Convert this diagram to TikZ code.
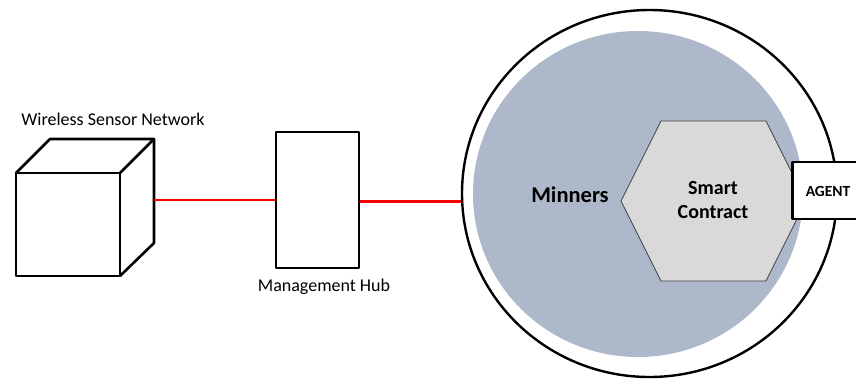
\documentclass[tikz,border=0pt]{standalone}
\usepackage{fontspec}
\setmainfont{Carlito}
\usetikzlibrary{shapes.geometric}
\definecolor{minerfill}{HTML}{ADB9CA}
\definecolor{hexfill}{HTML}{D9D9D9}
\definecolor{hexline}{HTML}{404040}
\begin{document}
\begin{tikzpicture}[x=1pt,y=-1pt,
  outline/.style={draw=black,line width=2.6pt,line join=round},
  link/.style={draw=red,line width=2.2pt},
  lbl/.style={font=\fontsize{18}{21}\selectfont,inner sep=0pt}]
\useasboundingbox (0,0) rectangle (856,378);
% cube
\draw[outline,fill=white] (16,173) rectangle (120,276);
\draw[outline] (16,173) -- (50,139) -- (154,139) -- (120,173);
\draw[outline] (154,139) -- (154,243) -- (120,276);
\coordinate (cubeR) at (154,200);
\node[lbl] (wsn) at (113,119) {Wireless Sensor Network};
% hub
\node[outline,fill=white,minimum width=83pt,minimum height=136pt,inner sep=0pt] (hub) at (317.5,200) {};
\node[lbl] (hubl) at (324,287) {Management Hub};
% circles
\node[draw=black,line width=2.4pt,ellipse,minimum width=375pt,minimum height=367pt,inner sep=0pt] (outer) at (649.5,193.5) {};
\fill[minerfill] (638,194) ellipse [x radius=165, y radius=163];
\node[font=\bfseries\fontsize{22.5}{26}\selectfont,inner sep=0pt] (min) at (570,195) {Minners};
% hexagon
\draw[fill=hexfill,draw=hexline,line width=0.7pt] (661,121) -- (766,121) -- (806,201) -- (766,281) -- (661,281) -- (621,201) -- cycle;
\node[font=\bfseries\fontsize{20}{24}\selectfont,align=center,inner sep=0pt] (sc) at (713,200) {Smart\\Contract};
% agent
\node[outline,fill=white,minimum width=72pt,minimum height=57pt,inner sep=0pt,anchor=west] (agent) at (791,190.5) {};
\node[font=\bfseries\fontsize{15.5}{18}\selectfont,inner sep=0pt] (agentl) at (828,191) {AGENT};
% links
\coordinate (l2a) at (359,201.5);
\coordinate (l2b) at (462,201.5);
\draw[link] (cubeR) -- (hub.west |- cubeR);
\draw[link] (hub.east |- l2a) -- (outer.west |- l2b);
\end{tikzpicture}
\end{document}
